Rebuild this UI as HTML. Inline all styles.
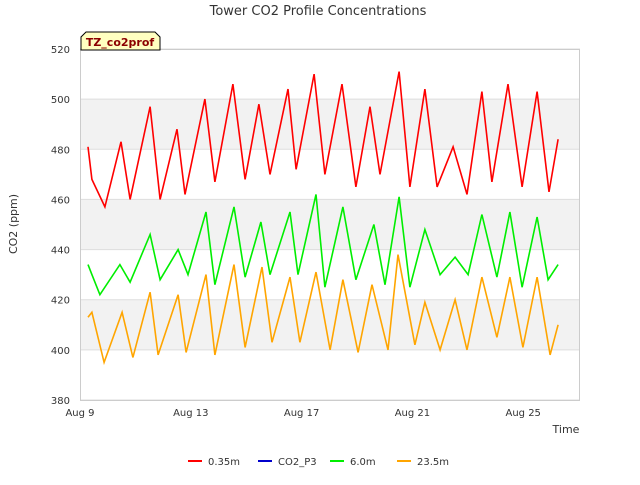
<!DOCTYPE html>
<html><head><meta charset="utf-8"><style>
body{margin:0;background:#fff;font-family:"Liberation Sans","DejaVu Sans",sans-serif;}
svg text{font-family:"DejaVu Sans","Liberation Sans",sans-serif;}
</style></head><body>
<svg id="chart" width="640" height="480" xmlns="http://www.w3.org/2000/svg">
<text x="318" y="15" text-anchor="middle" font-size="13" fill="#333">Tower CO2 Profile Concentrations</text>
<g id="grid"></g>
<rect x="80.5" y="49.5" width="499" height="351" fill="none" stroke="#ccc"/>
<g id="series"></g>
<g id="axes"></g>
<text transform="translate(17,224) rotate(-90)" text-anchor="middle" font-size="11" fill="#333">CO2 (ppm)</text>
<text x="566" y="433" text-anchor="middle" font-size="11" fill="#333">Time</text>
<g>
<path d="M81,50 L81,37 L86,32 L155,32 L160,37 L160,50 Z" fill="#ffffc0" stroke="#000" stroke-width="1"/>
<text x="120" y="46" text-anchor="middle" font-size="11" font-weight="bold" fill="#8b0000">TZ_co2prof</text>
</g>
<g id="legend"></g>
</svg>
<script>
const yTicks=[380,400,420,440,460,480,500,520];
const xTickDays=[9,13,17,21,25];
const xTickLabels=["Aug 9","Aug 13","Aug 17","Aug 21","Aug 25"];
const seriesNames=["0.35m","CO2_P3","6.0m","23.5m"];
const seriesColors=["#ff0000","#0000cc","#00ee00","#ffa500"];
const redT=[9.29,9.43,9.90,10.48,10.81,11.53,11.89,12.50,12.79,13.51,13.87,14.52,14.96,15.46,15.86,16.51,16.80,17.45,17.84,18.46,18.96,19.47,19.83,20.52,20.91,21.45,21.89,22.47,22.97,23.51,23.87,24.45,24.96,25.50,25.93,26.26];
const redV=[481,468,457,483,460,497,460,488,462,500,467,506,468,498,470,504,472,510,470,506,465,497,470,511,465,504,465,481,462,503,467,506,465,503,463,484];
const greenT=[9.29,9.43,9.72,10.44,10.81,11.53,11.89,12.54,12.90,13.55,13.87,14.56,14.96,15.53,15.86,16.58,16.87,17.52,17.84,18.49,18.96,19.61,20.01,20.52,20.91,21.45,22.00,22.54,23.01,23.51,24.05,24.52,24.96,25.50,25.90,26.26];
const greenV=[434,430,422,434,427,446,428,440,430,455,426,457,429,451,430,455,430,462,425,457,428,450,426,461,425,448,430,437,430,454,429,455,425,453,428,434];
const orangeT=[9.29,9.43,9.87,10.52,10.91,11.53,11.82,12.54,12.83,13.55,13.87,14.56,14.96,15.57,15.93,16.58,16.94,17.52,18.03,18.49,19.04,19.54,20.12,20.48,21.09,21.45,22.00,22.54,22.97,23.51,24.05,24.52,24.99,25.50,25.97,26.26];
const orangeV=[413,415,395,415,397,423,398,422,399,430,398,434,401,433,403,429,403,431,400,428,399,426,400,438,402,419,400,420,400,429,405,429,401,429,398,410];
const X0=80,X1=580,Y0=400,Y1=49,DMIN=9,DMAX=27.05,VMIN=380,VMAX=520;
const xs=d=>X0+(d-DMIN)/(DMAX-DMIN)*(X1-X0);
const ys=v=>Y0-(v-VMIN)/(VMAX-VMIN)*(Y0-Y1);
const NS="http://www.w3.org/2000/svg";
function mk(tag,attrs,parent){const e=document.createElementNS(NS,tag);for(const k in attrs)e.setAttribute(k,attrs[k]);parent.appendChild(e);return e;}
const grid=document.getElementById('grid'),axes=document.getElementById('axes'),ser=document.getElementById('series'),leg=document.getElementById('legend');
for(let i=0;i<yTicks.length-1;i++){if(i%2===1){const r=mk('rect',{x:X0,y:ys(yTicks[i+1]),width:X1-X0,height:ys(yTicks[i])-ys(yTicks[i+1]),fill:'#f2f2f2'},grid);

}}
yTicks.forEach(v=>{const l=mk('line',{x1:X0,x2:X1,y1:ys(v),y2:ys(v),stroke:'#ddd'},grid);


const t=mk('text',{x:X0-10,y:ys(v)+4,'text-anchor':'end','font-size':'10',fill:'#333'},axes);t.textContent=v;

});
xTickDays.forEach((d,i)=>{const t=mk('text',{x:xs(d),y:416,'text-anchor':'middle','font-size':'10',fill:'#333'},axes);t.textContent=xTickLabels[i];

});
function line(T,V,color,name){const p=mk('path',{d:T.map((t,i)=>(i?'L':'M')+xs(t).toFixed(1)+','+ys(V[i]).toFixed(1)).join(''),fill:'none',stroke:color,'stroke-width':'1.6'},ser);

}
line(orangeT,orangeV,seriesColors[3],'series-23-5m');
line(greenT,greenV,seriesColors[2],'series-6-0m');
line(redT,redV,seriesColors[0],'series-0-35m');
const lx=[188,258,330,397];
seriesNames.forEach((n,i)=>{const g=mk('g',{},leg);


mk('line',{x1:lx[i],x2:lx[i]+14,y1:461,y2:461,stroke:seriesColors[i],'stroke-width':'2'},g);
const t=mk('text',{x:lx[i]+20,y:465,'font-size':'10',fill:'#333'},g);t.textContent=n;});
</script>
</body></html>
